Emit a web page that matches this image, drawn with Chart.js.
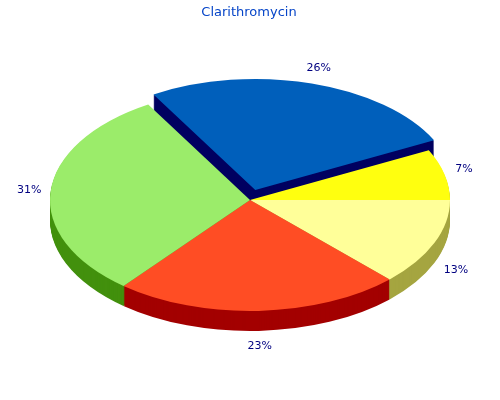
<!DOCTYPE html>
<html>
<head>
<meta charset="utf-8">
<style>
  html, body { margin: 0; padding: 0; background: #fff; }
  canvas { display: block; }
</style>
<script src="https://cdn.jsdelivr.net/npm/chart.js@4"></script>
</head>
<body>
<canvas id="myChart" width="500" height="400"></canvas>
<script>
const chartTitle = "Clarithromycin";
const sliceLabels = ["13%", "23%", "31%", "26%", "7%"];
const sliceValues = [12.7, 23.2, 30.6, 26.1, 7.4];

const topColors = ["#FFFF99", "#FF4D24", "#9BEC6A", "#005FBB", "#FFFF0F"];
const wallColors = ["#A5A540", "#A30000", "#42900D", "#000060", "#A5A540"];
const sliceOffsets = [0, 0, 0, 75, 0];   // arc element divides this by 4
const labelNudgeX = [1.5, 0, 0.5, 6, -2];
const labelNudgeY = [15.5, 6, 1, 2, 1];

const squash = 0.555;
const depth = 20;

const pie3d = {
	id: "pie3d",
	beforeDatasetsDraw(chart) {
		const ctx = chart.ctx;
		const arcs = chart.getDatasetMeta(0).data;
		const cy = arcs[0].y;
		ctx.save();
		ctx.translate(0, cy);
		ctx.scale(1, squash);
		ctx.translate(0, -cy);
		// stack the slices in the dark colour to get the rim
		for (let d = depth; d > 0; d--) {
			ctx.save();
			ctx.translate(0, d / squash);
			arcs.forEach((arc, i) => {
				const saved = arc.options;
				arc.options = Object.assign({}, saved, { backgroundColor: wallColors[i] });
				arc.draw(ctx);
				arc.options = saved;
			});
			ctx.restore();
		}
	},
	afterDatasetsDraw(chart) {
		const ctx = chart.ctx;
		ctx.restore();
		const arcs = chart.getDatasetMeta(0).data;
		ctx.save();
		ctx.textAlign = "center";
		ctx.textBaseline = "middle";
		ctx.font = "11px 'DejaVu Sans'";
		ctx.fillStyle = "#000080";
		arcs.forEach((arc, i) => {
			const mid = (arc.startAngle + arc.endAngle) / 2;
			ctx.fillText(sliceLabels[i], arc.x + Math.cos(mid) * 222 + labelNudgeX[i], arc.y + Math.sin(mid) * 140 + labelNudgeY[i]);
		});
		ctx.font = "13px 'DejaVu Sans'";
		ctx.fillStyle = "#0645C8";
		ctx.fillText(chartTitle, 249, 12.5);
		ctx.restore();
	}
};

new Chart(document.getElementById("myChart").getContext("2d"), {
	type: "pie",
	plugins: [pie3d],
	data: {
		labels: sliceLabels,
		datasets: [{
			data: sliceValues,
			backgroundColor: topColors,
			borderWidth: 0,
			offset: sliceOffsets,
			clip: false
		}]
	},
	options: {
		responsive: false,
		devicePixelRatio: 1,
		animation: false,
		events: [],
		rotation: 90,
		radius: 200,
		layout: { padding: 0 },
		plugins: {
			legend: { display: false },
			title: { display: false },
			tooltip: { enabled: false }
		}
	}
});
</script>
</body>
</html>
